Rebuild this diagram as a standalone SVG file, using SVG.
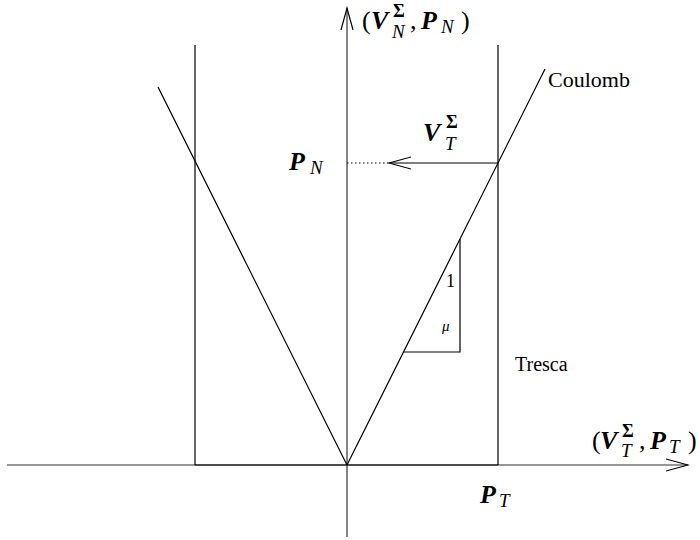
<svg xmlns="http://www.w3.org/2000/svg" width="700" height="540" viewBox="0 0 700 540">
<style>
.l{stroke:#000;stroke-width:1.2;fill:none}
.ax{stroke:#333;stroke-width:1.2;fill:none}
.t{font-family:"Liberation Serif","Times New Roman",serif;fill:#000;font-size:26px}
.b{font-weight:bold;font-style:italic}
.i{font-style:italic;font-size:19px}
.s{font-weight:bold;font-size:18px}
</style>
<defs>
<marker id="oa" markerWidth="24" markerHeight="14" refX="22" refY="7" orient="auto" markerUnits="userSpaceOnUse">
<path d="M0,1 L22,7 L0,13" fill="none" stroke="#000" stroke-width="1.2"/>
</marker>
</defs>
<g id="connectors">
<line class="ax" x1="7" y1="465" x2="688" y2="465" marker-end="url(#oa)"/>
<line class="ax" x1="347" y1="537" x2="347" y2="8" marker-end="url(#oa)" stroke="#555"/>
<line class="l" x1="195" y1="45" x2="195" y2="465"/>
<line class="l" x1="498" y1="45" x2="498" y2="465"/>
<line class="l" x1="195" y1="465" x2="498" y2="465"/>
<line class="l" x1="347" y1="465" x2="545" y2="69"/>
<line class="l" x1="347" y1="465" x2="158" y2="87"/>
<polyline class="l" points="460,239 460,352 404,352"/>
<line class="l" x1="498" y1="163" x2="389" y2="163" marker-end="url(#oa)"/>
<line class="l" x1="347" y1="163" x2="389" y2="163" stroke-dasharray="1.5,2.5"/>
</g>
<g id="label-top">
<text class="t" x="362" y="29">(</text>
<text class="t b" x="371" y="29">V</text>
<text class="t s" x="393" y="17">Σ</text>
<text class="t i" x="392" y="38">N</text>
<text class="t" x="410" y="29">,</text>
<text class="t b" x="421" y="29">P</text>
<text class="t i" x="441" y="33">N</text>
<text class="t" x="461" y="29">)</text>
</g>
<g id="label-coulomb"><text class="t" x="548" y="87" style="font-size:22px">Coulomb</text></g>
<g id="label-vt">
<text class="t b" x="423" y="141">V</text>
<text class="t s" x="446" y="128">Σ</text>
<text class="t i" x="445" y="150">T</text>
</g>
<g id="label-pn">
<text class="t b" x="289" y="170">P</text>
<text class="t i" x="310" y="174">N</text>
</g>
<g id="label-triangle">
<text class="t" x="446" y="287" style="font-size:18px">1</text>
<text class="t" x="442" y="331" style="font-size:15px;font-style:italic">μ</text>
</g>
<g id="label-tresca"><text class="t" x="515" y="371" style="font-size:20px">Tresca</text></g>
<g id="label-axis-t">
<text class="t" x="592" y="449">(</text>
<text class="t b" x="600" y="449">V</text>
<text class="t s" x="622" y="437">Σ</text>
<text class="t i" x="621" y="457">T</text>
<text class="t" x="639" y="449">,</text>
<text class="t b" x="650" y="449">P</text>
<text class="t i" x="669" y="453">T</text>
<text class="t" x="688" y="449">)</text>
</g>
<g id="label-pt">
<text class="t b" x="480" y="503">P</text>
<text class="t i" x="499" y="507">T</text>
</g>
</svg>
